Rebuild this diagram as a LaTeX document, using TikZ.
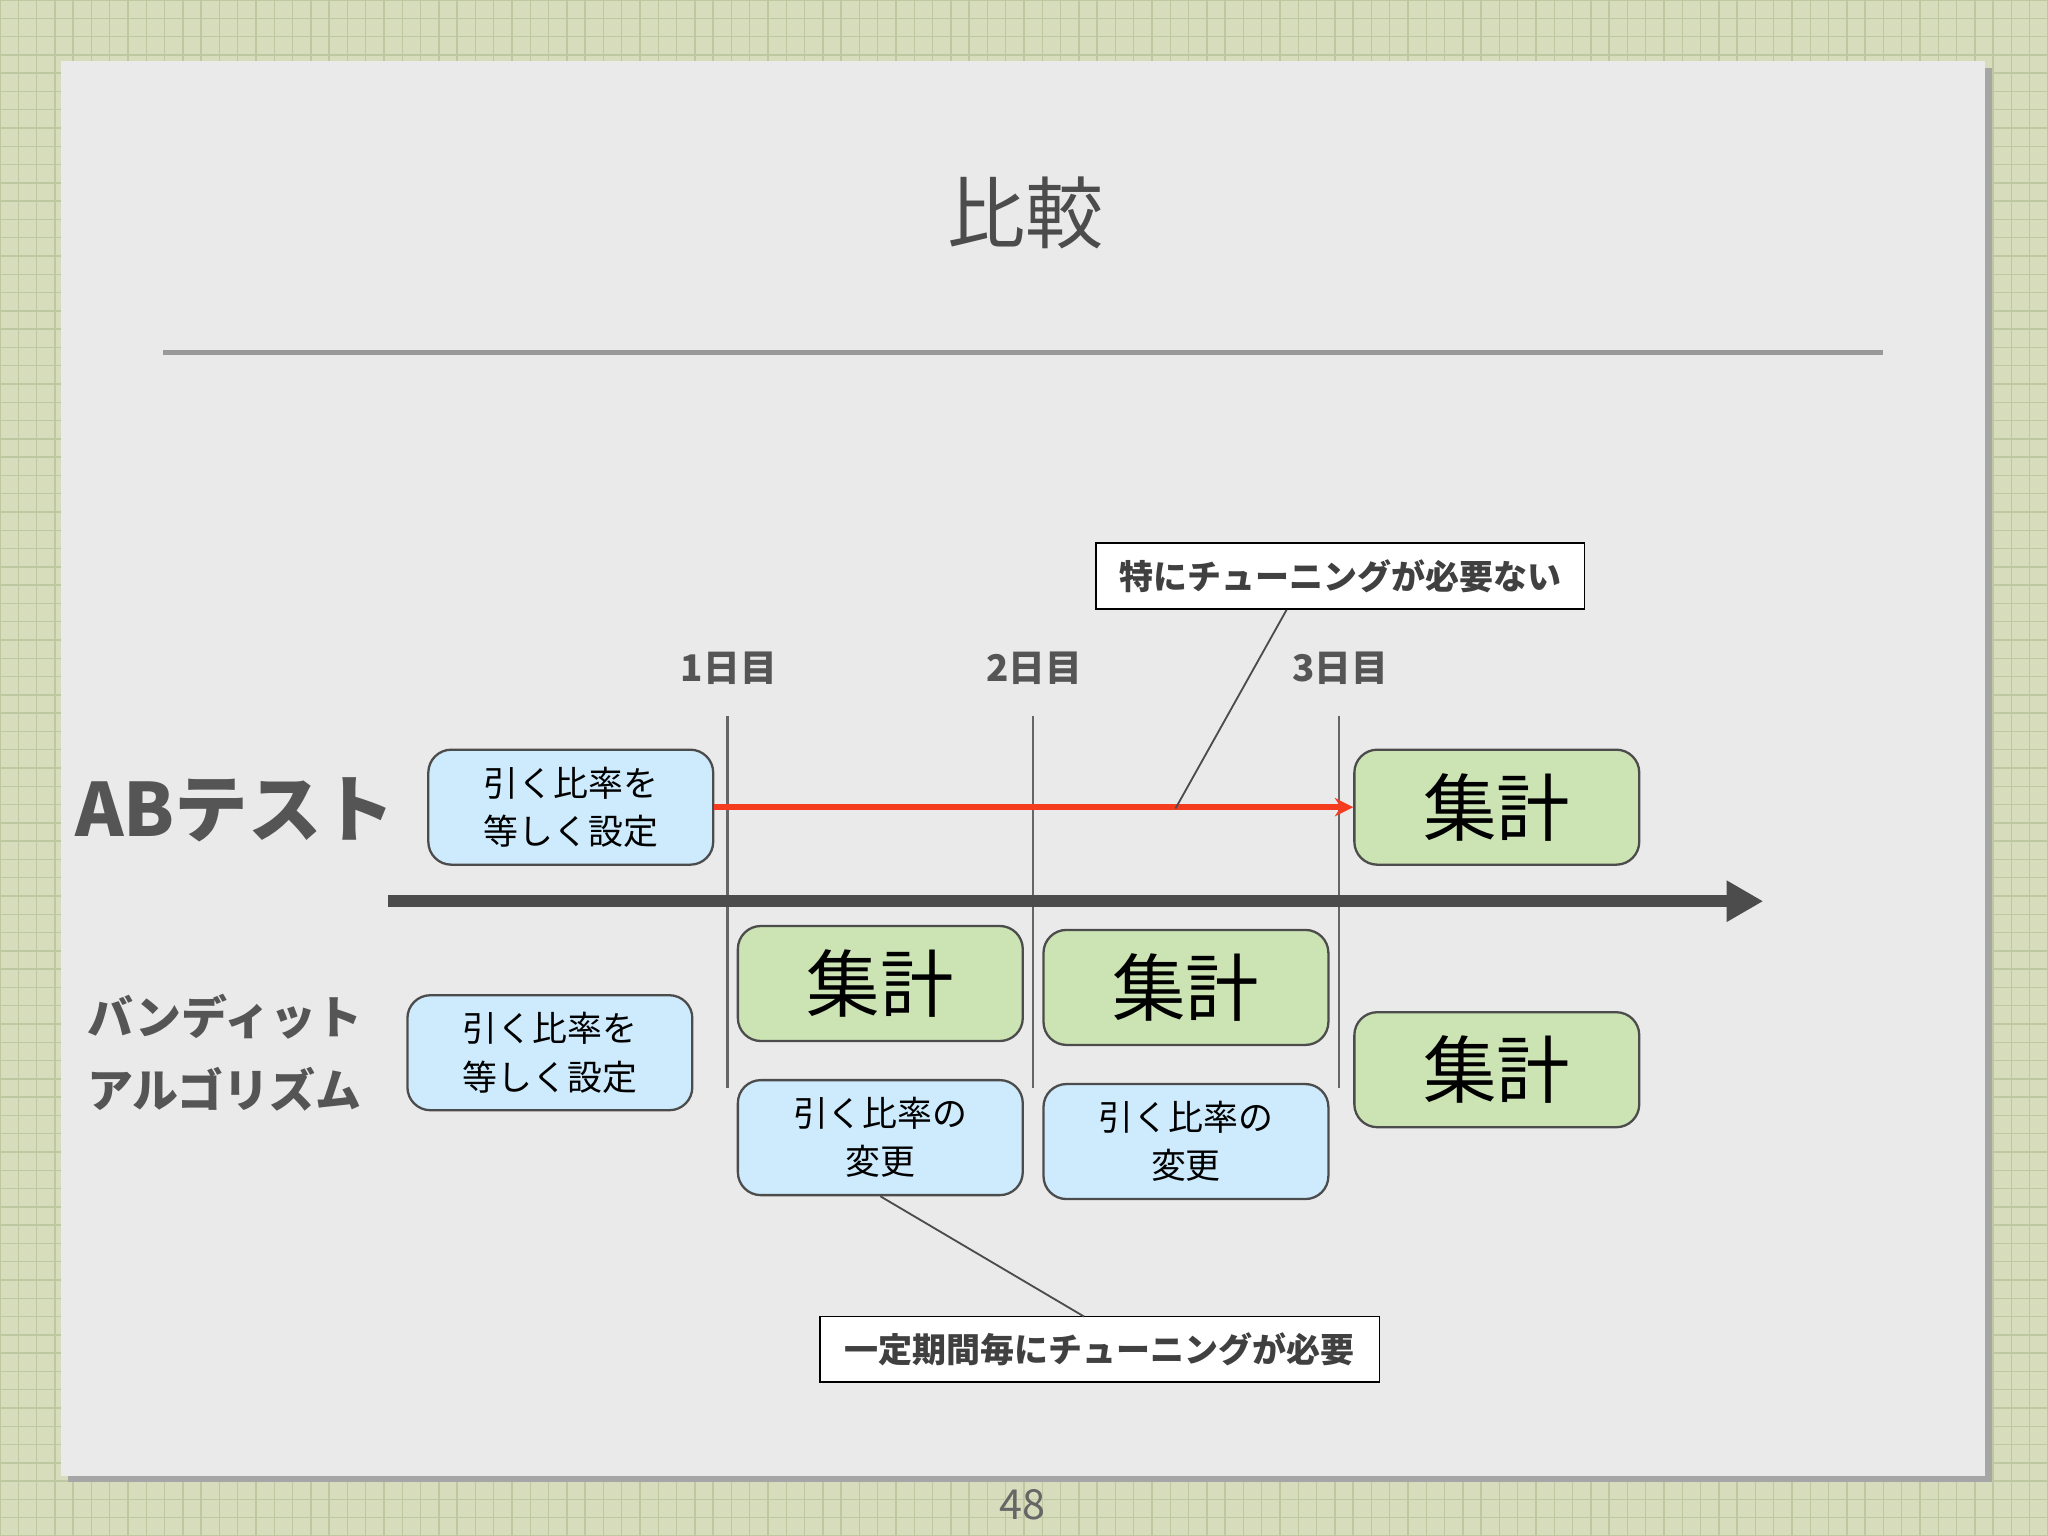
\documentclass[tikz,border=0pt]{standalone}
\usepackage{fontspec}
\setmainfont{Noto Sans CJK JP}
\usetikzlibrary{arrows.meta}
\definecolor{bgg}{RGB}{214,220,188}
\definecolor{gridc}{RGB}{190,200,160}
\definecolor{slide}{RGB}{234,234,234}
\definecolor{bluef}{RGB}{205,235,252}
\definecolor{greenf}{RGB}{204,228,180}
\definecolor{txtg}{RGB}{85,85,85}
\definecolor{redl}{RGB}{245,60,30}
\tikzset{
 box/.style={draw=black!70,rounded corners=5pt,minimum width=2.18cm,minimum height=0.88cm,inner sep=0pt,align=center,line width=0.5pt},
 blue/.style={box,fill=bluef,font=\fontsize{7.6}{10.5}\selectfont},
 green/.style={box,fill=greenf,font=\fontsize{16}{18}\selectfont},
 call/.style={draw=black,fill=white,inner sep=0pt,minimum height=0.5cm,font=\fontsize{7.4}{9}\selectfont\bfseries,text=black!75},
 day/.style={font=\fontsize{8}{9}\selectfont\bfseries,text=txtg},
 vl/.style={draw=black!60,line width=0.5pt}
}
\begin{document}
\begin{tikzpicture}[x=0.01cm,y=-0.01cm]
\useasboundingbox (0,0) rectangle (1568,1176);
\fill[bgg] (0,0) rectangle (1568,1176);
\foreach \i in {0,14,...,1568} \draw[gridc,line width=0.3pt] (\i,0)--(\i,1176);
\foreach \i in {0,14,...,1176} \draw[gridc,line width=0.3pt] (0,\i)--(1568,\i);
\fill[black!35] (52,52) rectangle (1525,1135);
\fill[slide] (47,47) rectangle (1520,1130);
\node[font=\fontsize{17}{20}\selectfont,text=black!70] (title) at (785,163) {比較};
\draw[black!40,line width=1pt] (125,270) -- (1442,270);
\node[day] (d1) at (558,512) {1日目};
\node[day] (d2) at (792,512) {2日目};
\node[day] (d3) at (1026,512) {3日目};
\coordinate (v1t) at (557,548); \coordinate (v1b) at (557,833);
\coordinate (v2t) at (791,548); \coordinate (v2b) at (791,833);
\coordinate (v3t) at (1025,548); \coordinate (v3b) at (1025,833);
\draw[vl] (v1t)--(v1b); \draw[vl] (v2t)--(v2b); \draw[vl] (v3t)--(v3b);
\coordinate (axs) at (297,690); \coordinate (axe) at (1350,690);
\draw[black!70,line width=2.6pt,-{Triangle[length=8pt,width=8.5pt]}] (axs)--(axe);
\node[font=\fontsize{16}{18}\selectfont\bfseries,text=txtg] (ab) at (180,620) {ABテスト};
\node[blue] (ab1) at (437,618) {引く比率を\\等しく設定};
\node[green] (ab2) at (1146,618) {集計};
\draw[redl,line width=1.3pt,-{Stealth[length=4pt,width=4pt]}] (ab1.east)--(ab2.west);
\node[call,minimum width=3.74cm] (c1) at (1026,441) {特にチューニングが必要ない};
\coordinate (c1p) at (900,619);
\coordinate (c1s) at (985,467);
\draw[black!70,line width=0.4pt] (c1s)--(c1p);
\node[font=\fontsize{10}{16}\selectfont\bfseries,text=txtg,align=left] (band) at (172,806) {バンディット\\アルゴリズム};
\node[blue] (b0) at (421,806) {引く比率を\\等しく設定};
\node[green] (g1) at (674,753) {集計};
\node[green] (g2) at (908,756) {集計};
\node[green] (g3) at (1146,819) {集計};
\node[blue] (b1) at (674,871) {引く比率の\\変更};
\node[blue] (b2) at (908,874) {引く比率の\\変更};
\node[call,minimum width=4.28cm] (c2) at (842,1033) {一定期間毎にチューニングが必要};
\coordinate (c2p) at (830,1008);
\draw[black!70,line width=0.4pt] (b1.south)--(c2p);
\node[font=\fontsize{9}{10}\selectfont\itshape,text=black!60] (pg) at (783,1152) {48};
\end{tikzpicture}
\end{document}
